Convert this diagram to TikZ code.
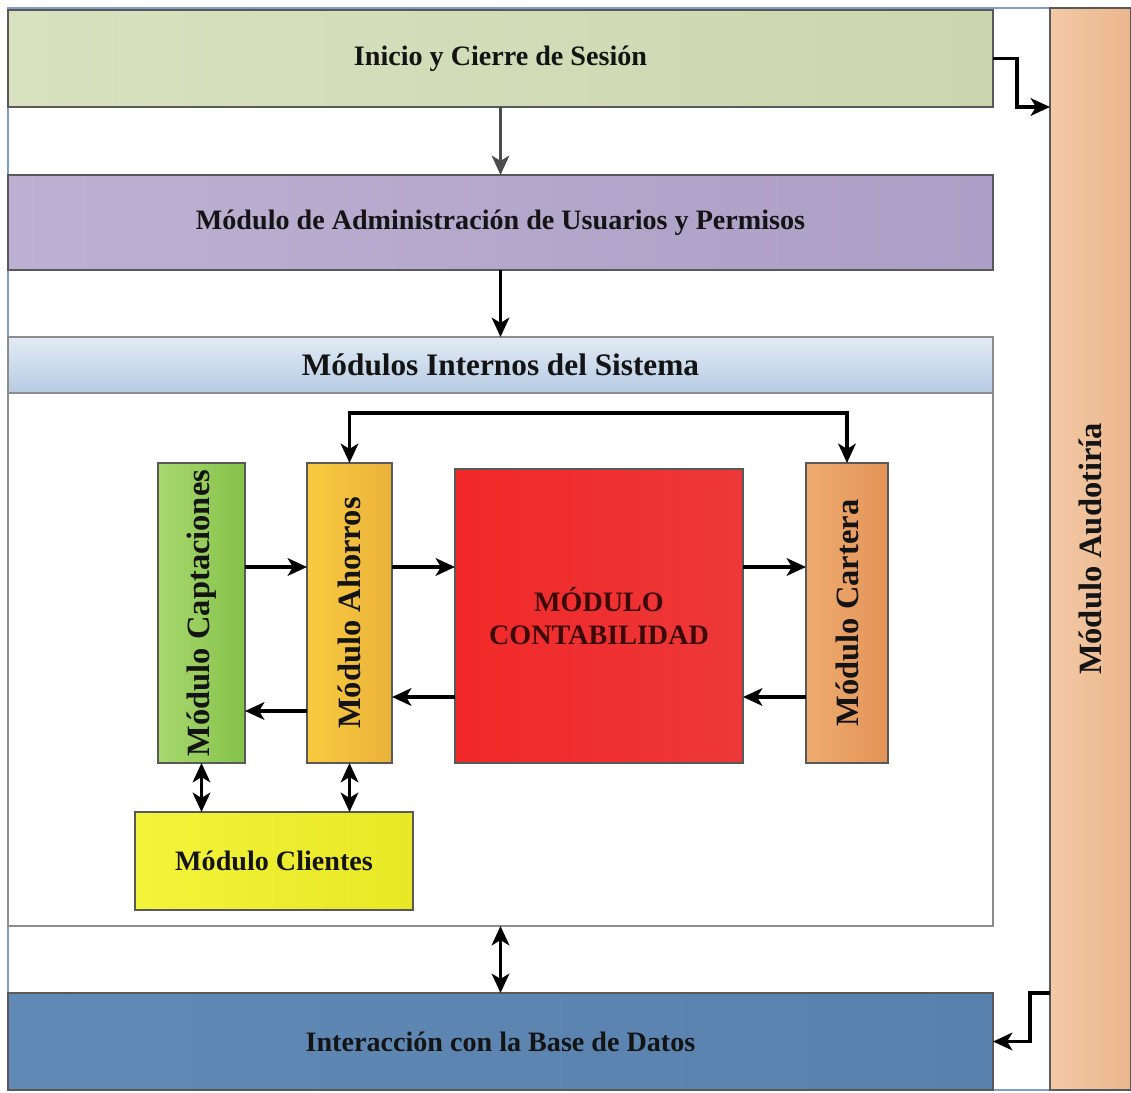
\documentclass[tikz,border=0pt]{standalone}
\usepackage{fontspec}
\setmainfont{Liberation Serif}
\usetikzlibrary{calc,arrows.meta}

\definecolor{textoscuro}{HTML}{141414}
\definecolor{textorojo}{HTML}{3A0A0A}
\definecolor{marcoazul}{HTML}{7F9FCB}
\definecolor{inicioA}{HTML}{D9E1C0}
\definecolor{inicioB}{HTML}{CBD6AE}
\definecolor{usuariosA}{HTML}{BCB1D2}
\definecolor{usuariosB}{HTML}{AC9EC6}
\definecolor{cabeceraA}{HTML}{E2EBF5}
\definecolor{cabeceraB}{HTML}{B6CBE3}
\definecolor{captacionesA}{HTML}{A8D870}
\definecolor{captacionesB}{HTML}{84C248}
\definecolor{ahorrosA}{HTML}{F9CB40}
\definecolor{ahorrosB}{HTML}{E9B23A}
\definecolor{contabA}{HTML}{F22828}
\definecolor{contabB}{HTML}{EC3838}
\definecolor{carteraA}{HTML}{EFAC70}
\definecolor{carteraB}{HTML}{E39358}
\definecolor{clientesA}{HTML}{F3F33A}
\definecolor{clientesB}{HTML}{E8E826}
\definecolor{bdA}{HTML}{6089B6}
\definecolor{bdB}{HTML}{5881AD}
\definecolor{auditA}{HTML}{F3CAA6}
\definecolor{auditB}{HTML}{EBB68D}

\tikzset{
  modbox/.style={draw=black!65,line width=0.6pt,rectangle,outer sep=0pt,inner sep=2pt,
    text=textoscuro,font=\bfseries\fontsize{16}{19}\selectfont},
  vmodbox/.style={modbox,minimum width=#1,minimum height=6cm,font=\bfseries\fontsize{18.5}{21}\selectfont},
  flecha/.style={line width=2.2pt,-{Stealth[length=11pt,width=10pt,inset=3pt]}},
  doble/.style={line width=2.2pt,{Stealth[length=11pt,width=10pt,inset=3pt]}-{Stealth[length=11pt,width=10pt,inset=3pt]}},
}

\begin{document}
\begin{tikzpicture}
\useasboundingbox (0,0) rectangle (22.62,-21.86);

\draw[marcoazul,line width=0.8pt] (0.16,-0.16) rectangle (21.0,-21.8);

\draw node [modbox,left color=inicioA,right color=inicioB,minimum width=19.7cm,minimum height=1.94cm](inicio) at (10.01,-1.17){Inicio y Cierre de Sesión};

\draw node [modbox,left color=usuariosA,right color=usuariosB,minimum width=19.7cm,minimum height=1.9cm](usuarios) at (10.01,-4.45){Módulo de Administración de Usuarios y Permisos};

\draw node [modbox,draw=black!45,fill=white,minimum width=19.7cm,minimum height=11.78cm](internos) at (10.01,-12.63){};
\draw node [modbox,draw=black!45,top color=cabeceraA,bottom color=cabeceraB,minimum width=19.7cm,minimum height=1.12cm,anchor=north,font=\bfseries\fontsize{17.8}{20}\selectfont](cabecera) at (internos.north){Módulos Internos del Sistema};

\draw node [vmodbox=1.74cm,left color=captacionesA,right color=captacionesB](captaciones) at (4.03,-12.26){\rotatebox{90}{Módulo Captaciones}};
\draw node [vmodbox=1.7cm,left color=ahorrosA,right color=ahorrosB](ahorros) at (6.99,-12.26){\rotatebox{90}{Módulo Ahorros}};
\draw node [modbox,left color=contabA,right color=contabB,minimum width=5.76cm,minimum height=5.88cm,text=textorojo,align=center](contabilidad) at (11.98,-12.32){MÓDULO\\CONTABILIDAD};
\draw node [vmodbox=1.64cm,left color=carteraA,right color=carteraB](cartera) at (16.94,-12.26){\rotatebox{90}{Módulo Cartera}};

\draw node [modbox,left color=clientesA,right color=clientesB,minimum width=5.56cm,minimum height=1.96cm](clientes) at (5.48,-17.22){Módulo Clientes};

\draw node [modbox,left color=bdA,right color=bdB,minimum width=19.7cm,minimum height=1.94cm](bd) at (10.01,-20.83){Interacción con la Base de Datos};

\draw node [vmodbox=1.62cm,minimum height=21.64cm,left color=auditA,right color=auditB](auditoria) at (21.81,-10.98){\rotatebox{90}{Módulo Audotiría}};

\draw[flecha,draw=black!70,line width=1.6pt] (inicio) -- (usuarios);
\draw[flecha] (usuarios) -- (internos);
\draw[doble] (internos) -- (bd);

\draw[flecha] (inicio.east) -- ++(0.48,0) |- (auditoria.west |- inicio.south);
\draw[flecha] (auditoria.west |- bd.north) -| ($(bd.east)+(0.74,0)$) -- (bd.east);

\draw[doble] (ahorros.north) -- ++(0,1) -| (cartera.north);

\draw[flecha] ([yshift=0.92cm]captaciones.east) -- ([yshift=0.92cm]captaciones.east -| ahorros.west);
\draw[flecha] ([yshift=0.92cm]ahorros.east) -- ([yshift=0.92cm]ahorros.east -| contabilidad.west);
\draw[flecha] ([yshift=0.92cm]ahorros.east -| contabilidad.east) -- ([yshift=0.92cm]ahorros.east -| cartera.west);

\draw[flecha] ([yshift=-1.68cm]cartera.west) -- ([yshift=-1.68cm]cartera.west -| contabilidad.east);
\draw[flecha] ([yshift=-1.68cm]cartera.west -| contabilidad.west) -- ([yshift=-1.68cm]cartera.west -| ahorros.east);
\draw[flecha] ([yshift=-1.96cm]ahorros.west) -- ([yshift=-1.96cm]ahorros.west -| captaciones.east);

\draw[doble] (captaciones.south) -- (captaciones.south |- clientes.north);
\draw[doble] (ahorros.south) -- (ahorros.south |- clientes.north);

\end{tikzpicture}
\end{document}
